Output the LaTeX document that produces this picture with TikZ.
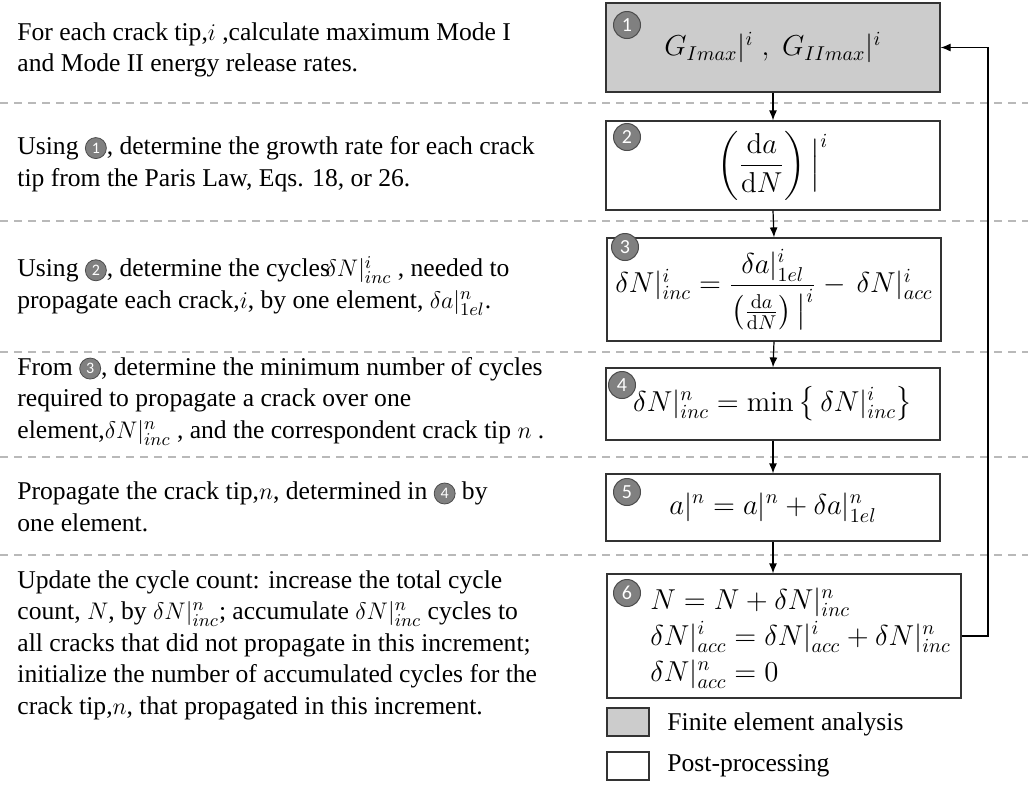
\documentclass[tikz,border=0pt]{standalone}
\usepackage{amsmath}
\usepackage[no-math]{fontspec}
\setmainfont{Liberation Serif}
\newfontfamily\numfont{Carlito}
\usetikzlibrary{arrows.meta}
\definecolor{boxgray}{RGB}{204,204,204}
\definecolor{dotgray}{RGB}{128,128,128}
\definecolor{sepgray}{RGB}{185,185,185}
\newcommand{\circnum}[1]{\tikz[baseline=-0.55ex]\node[anchor=center,circle,fill=dotgray,draw=black!70,line width=0.4pt,inner sep=0pt,minimum size=10.5pt,text=white,font=\numfont\fontsize{8}{8}\selectfont]{#1};}

\begin{document}
\begin{tikzpicture}[x=0.5pt,y=-0.5pt,
    box/.style={draw=black!80,line width=0.6pt,minimum width=167pt,inner sep=1pt,font=\fontsize{14.3}{18}\selectfont},
    numdot/.style={circle,fill=dotgray,draw=black!70,line width=0.5pt,minimum size=13.5pt,inner sep=0pt,text=white,font=\numfont\fontsize{10}{10}\selectfont},
    txt/.style={anchor=west,align=left,inner sep=0pt,font=\fontsize{12.8}{15.75}\selectfont},
    flow/.style={-{Latex[length=5pt,width=4pt]},line width=0.6pt}]
    \useasboundingbox (0,0) rectangle (1028,788);
    \foreach \y in {103,221,352,457,555}
        \draw [sepgray,dash pattern=on 4pt off 3pt,line width=0.6pt] (0,\y) -- (1028,\y);
    % flow chart boxes
    \node [box,fill=boxgray,minimum height=44.5pt] (b1) at (773,47.5) {$G_{Imax}|^{i}\;,\;G_{IImax}|^{i}$};
    \node [box,minimum height=44.5pt] (b2) at (773,165.5) {$\left(\dfrac{\mathrm{d}a}{\mathrm{d}N}\right)\Big|^{i}$};
    \node [box,minimum height=51.5pt] (b3) at (774,289.5) {$\delta N|^{i}_{inc}=\dfrac{\delta a|^{i}_{1el}}{\left(\frac{\mathrm{d}a}{\mathrm{d}N}\right)\big|^{i}}-\,\delta N|^{i}_{acc}$};
    \node [box,minimum height=36pt] (b4) at (773,404) {$\delta N|^{n}_{inc}=\min\left\{\,\delta N|^{i}_{inc}\right\}$};
    \node [box,minimum height=33.5pt] (b5) at (773,507.5) {$a|^{n}=a|^{n}+\delta a|^{n}_{1el}$};
    \node [box,minimum width=177pt,minimum height=62pt] (b6) at (784,636) {};
    \node [anchor=west,align=left,inner sep=0pt,font=\fontsize{14.3}{18}\selectfont] (b6txt) at (650,638) {$N=N+\delta N|^{n}_{inc}$\\ $\delta N|^{i}_{acc}=\delta N|^{i}_{acc}+\delta N|^{n}_{inc}$\\ $\delta N|^{n}_{acc}=0$};
    \node [numdot] (n1) at (627,25) {1};
    \node [numdot] (n2) at (627,137) {2};
    \node [numdot] (n3) at (625,247) {3};
    \node [numdot] (n4) at (622,385) {4};
    \node [numdot] (n5) at (627,492) {5};
    \node [numdot] (n6) at (627,593) {6};
    % arrows
    \draw [flow] (b1.south) -- (b2.north);
    \draw [flow] (b2.south) -- (b3.north);
    \draw [flow] (b3.south) -- (b4.north);
    \draw [flow] (b4.south) -- (b5.north);
    \draw [flow] (b5.south) -- (b5.south |- b6.north);
    \coordinate (back) at (988,340);
    \draw [flow] (b6.east) -| (back) |- (b1.east);
    % descriptions
    \node [txt] (t1) at (17,50) {For each crack tip,$i$ ,calculate maximum Mode I\\and Mode II energy release rates.};
    \node [txt] (t2) at (17,164) {Using \circnum{1}, determine the growth rate for each crack\\tip from the Paris Law, Eqs. 18, or 26.};
    \node [txt] (t3) at (17,286) {Using \circnum{2}, determine the cycles\!$\delta N|^{i}_{inc}$ , needed to\\propagate each crack,$i$, by one element, $\delta a|^{n}_{1el}$.};
    \node [txt] (t4) at (17,401) {From \circnum{3}, determine the minimum number of cycles\\required to propagate a crack over one\\element,$\delta N|^{n}_{inc}$ , and the correspondent crack tip $n$ .};
    \node [txt] (t5) at (17,507) {Propagate the crack tip,$n$, determined in \circnum{4} by\\one element.};
    \node [txt] (t6) at (17,645) {Update the cycle count: increase the total cycle\\count, $N$, by $\delta N|^{n}_{inc}$; accumulate $\delta N|^{n}_{inc}$ cycles to\\all cracks that did not propagate in this increment;\\initialize the number of accumulated cycles for the\\crack tip,$n$, that propagated in this increment.};
    % legend
    \node [draw=black!80,line width=0.6pt,fill=boxgray,minimum width=21pt,minimum height=14pt,inner sep=0pt] (fea) at (628,722) {};
    \node [draw=black!80,line width=0.6pt,minimum width=21pt,minimum height=14pt,inner sep=0pt] (post) at (628,766) {};
    \node [txt] (featxt) at (667,724) {Finite element analysis};
    \node [txt] (posttxt) at (667,766) {Post-processing};
\end{tikzpicture}
\end{document}
